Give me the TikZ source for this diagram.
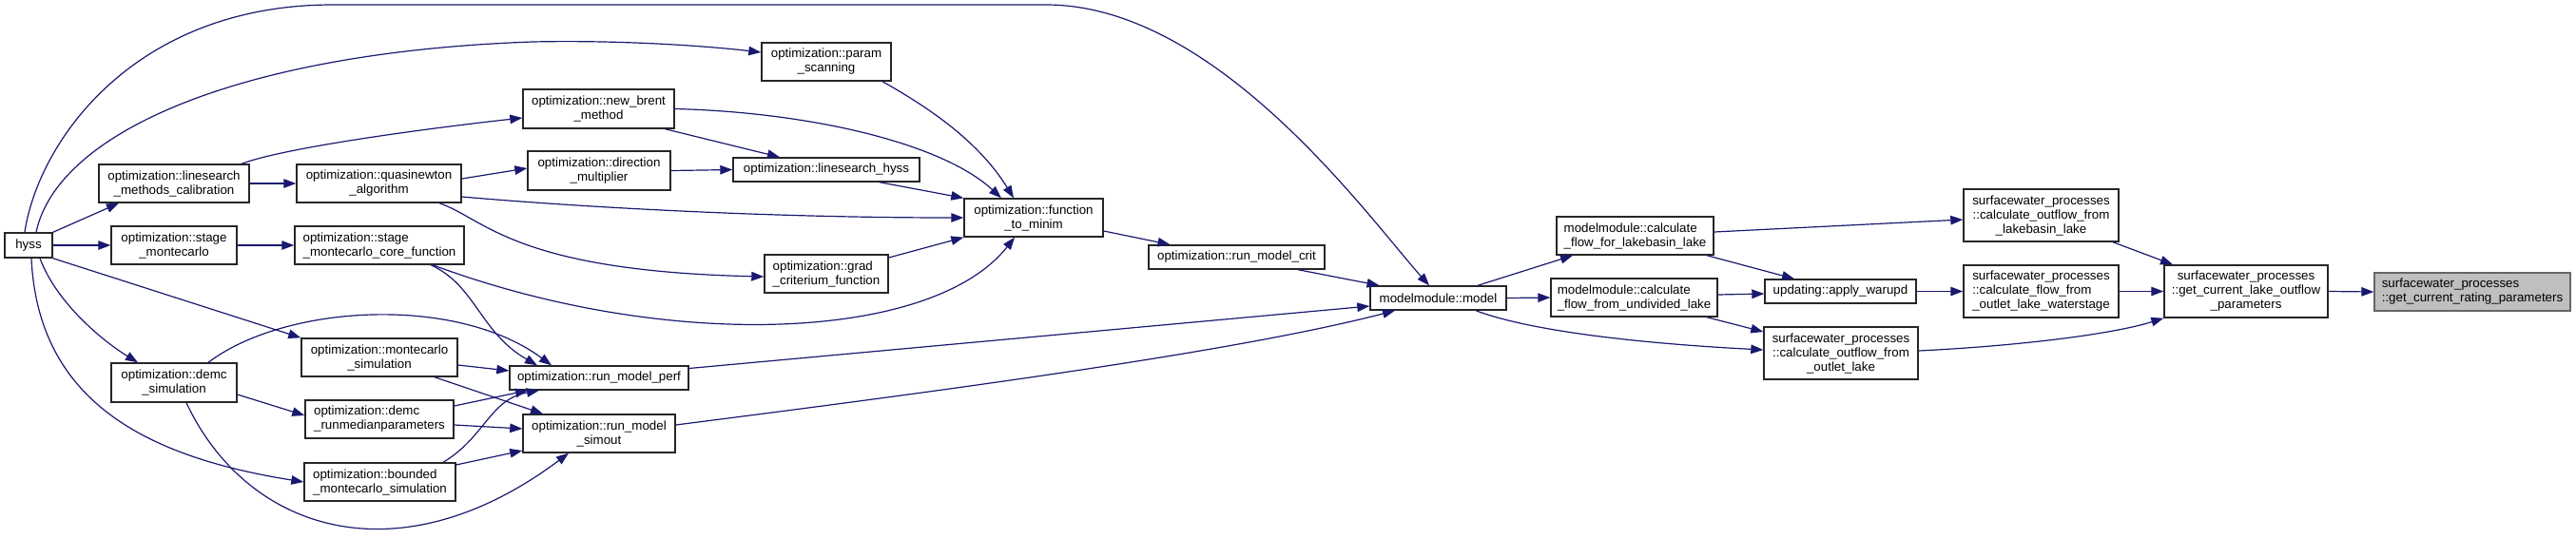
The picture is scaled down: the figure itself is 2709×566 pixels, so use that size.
\documentclass[tikz,border=0pt]{standalone}
\usepackage{fontspec}
\setmainfont{Liberation Sans}
\usetikzlibrary{arrows.meta}
\definecolor{edgeblue}{HTML}{191970}

\begin{document}
\begin{tikzpicture}[x=1pt,y=-1pt,
	fn/.style={draw=black!85,line width=1.4pt,fill=white,inner sep=1pt,align=center,font=\fontsize{13.33}{15}\selectfont},
	fnl/.style={fn,align=left},
	root/.style={fnl,draw=black!60,fill=black!25},
	call/.style={draw=edgeblue,line width=1.2pt,-{Triangle[length=13pt,width=9.5pt]}}]
			\useasboundingbox (0,0) rectangle (2709,566);
			\node [fn,minimum width=50,minimum height=26] (hyss) at (30,258) {hyss};
			\node [fn,minimum width=158,minimum height=40] (lsmc) at (183,193) {optimization::linesearch\\\_methods\_calibration};
			\node [fn,minimum width=132,minimum height=40] (stmc) at (183,258) {optimization::stage\\\_montecarlo};
			\node [fn,minimum width=132,minimum height=41] (demc) at (183,402.5) {optimization::demc\\\_simulation};
			\node [fn,minimum width=173,minimum height=40] (qn) at (398.5,193) {optimization::quasinewton\\\_algorithm};
			\node [fnl,minimum width=178,minimum height=40] (core) at (399,258) {optimization::stage\\\_montecarlo\_core\_function};
			\node [fn,minimum width=164,minimum height=40] (mcsim) at (399,376) {optimization::montecarlo\\\_simulation};
			\node [fnl,minimum width=156,minimum height=40] (runmed) at (399,441) {optimization::demc\\\_runmedianparameters};
			\node [fnl,minimum width=159,minimum height=40] (bmc) at (399.5,507) {optimization::bounded\\\_montecarlo\_simulation};
			\node [fn,minimum width=159,minimum height=41] (brent) at (629.5,114.5) {optimization::new\_brent\\\_method};
			\node [fn,minimum width=150,minimum height=41] (dirm) at (630,179.5) {optimization::direction\\\_multiplier};
			\node [fn,minimum width=188,minimum height=25] (perf) at (630,397.5) {optimization::run\_model\_perf};
			\node [fn,minimum width=160,minimum height=40] (simout) at (630,456) {optimization::run\_model\\\_simout};
			\node [fn,minimum width=136,minimum height=40] (scan) at (869,65) {optimization::param\\\_scanning};
			\node [fn,minimum width=196,minimum height=25] (lshyss) at (869,178.5) {optimization::linesearch\_hyss};
			\node [fnl,minimum width=130,minimum height=40] (grad) at (869,288) {optimization::grad\\\_criterium\_function};
			\node [fn,minimum width=146,minimum height=40] (ftm) at (1087,229) {optimization::function\\\_to\_minim};
			\node [fn,minimum width=185,minimum height=25] (crit) at (1300.5,270.5) {optimization::run\_model\_crit};
			\node [fn,minimum width=143,minimum height=25] (model) at (1512.5,313.5) {modelmodule::model};
			\node [fnl,minimum width=165,minimum height=40] (lakeb) at (1719.5,248) {modelmodule::calculate\\\_flow\_for\_lakebasin\_lake};
			\node [fnl,minimum width=175,minimum height=40] (undiv) at (1718.5,313) {modelmodule::calculate\\\_flow\_from\_undivided\_lake};
			\node [fn,minimum width=159,minimum height=25] (warupd) at (1935.5,306.5) {updating::apply\_warupd};
			\node [fn,minimum width=162,minimum height=55] (outlet) at (1936,371.5) {surfacewater\_processes\\::calculate\_outflow\_from\\\_outlet\_lake};
			\node [fn,minimum width=163,minimum height=55] (outlb) at (2146.5,226.5) {surfacewater\_processes\\::calculate\_outflow\_from\\\_lakebasin\_lake};
			\node [fnl,minimum width=163,minimum height=55] (wstage) at (2146.5,306.5) {surfacewater\_processes\\::calculate\_flow\_from\\\_outlet\_lake\_waterstage};
			\node [fn,minimum width=172,minimum height=55] (lakeout) at (2362,306.5) {surfacewater\_processes\\::get\_current\_lake\_outflow\\\_parameters};
			\node [root,minimum width=206,minimum height=40] (rating) at (2600,307) {surfacewater\_processes\\::get\_current\_rating\_parameters};
			\draw [call] ([xshift=-4pt]hyss.north) .. controls (40,150) and (140,5) .. (350,5) -- (1100,5) .. controls (1280,5) and (1440,230) .. ([xshift=-9.5pt]model.north);
			\draw [call] ([xshift=8pt]hyss.north) .. controls (60,140) and (250,55) .. (560,44) .. controls (650,42) and (740,48) .. ([yshift=10pt]scan.west);
			\draw [call] (hyss.north east) -- ([xshift=-58pt]lsmc.south);
			\draw [call] (hyss.east) -- (stmc.west);
			\draw [call] (hyss.south east) -- (mcsim.north west);
			\draw [call] ([xshift=12pt]hyss.south) .. controls (60,320) and (110,360) .. ([xshift=-38pt]demc.north);
			\draw [call] ([xshift=3pt]hyss.south) .. controls (40,420) and (150,480) .. (bmc.west);
			\draw [call] ([xshift=71pt]lsmc.north) .. controls (300,155) and (450,135) .. ([yshift=-9.5pt]brent.west);
			\draw [call] (lsmc.east) -- (qn.west);
			\draw [call] ([yshift=5pt]qn.east) -- ([yshift=2.5pt]dirm.west);
			\draw [call] ([yshift=-14pt]qn.east) .. controls (600,217) and (800,229) .. (ftm.west);
			\draw [call] ([xshift=63.5pt]qn.south) .. controls (510,230) and (540,285) .. ([yshift=-3pt]grad.west);
			\draw [call] (stmc.east) -- (core.west);
			\draw [call] ([xshift=54pt]core.south) .. controls (500,300) and (505,350) .. ([xshift=-65pt]perf.north);
			\draw [call] ([xshift=56pt]core.south) .. controls (700,370) and (980,360) .. ([xshift=-20pt]ftm.south);
			\draw [call] ([xshift=36pt]demc.north) .. controls (300,320) and (480,310) .. ([xshift=-50pt]perf.north);
			\draw [call] ([yshift=-8pt]mcsim.east) -- ([yshift=7.5pt]perf.west);
			\draw [call] ([xshift=58pt]mcsim.south) -- ([xshift=-59pt]simout.north);
			\draw [call] ([yshift=-12.5pt]demc.east) -- ([yshift=4pt]runmed.west);
			\draw [call] ([yshift=14pt]runmed.east) -- ([xshift=-75pt]perf.south);
			\draw [call] ([yshift=-6pt]runmed.east) -- ([yshift=5pt]simout.west);
			\draw [call] ([xshift=66.5pt]bmc.north) .. controls (510,460) and (515,420) .. ([xshift=-63pt]perf.south);
			\draw [call] ([yshift=18pt]bmc.east) -- ([yshift=-18pt]simout.west);
			\draw [call] ([xshift=13pt]demc.south) .. controls (260,560) and (420,610) .. ([xshift=-32pt]simout.south);
			\draw [call] ([xshift=70pt]brent.south) -- ([xshift=-49pt]lshyss.north);
			\draw [call] (brent.east) .. controls (850,118) and (990,150) .. ([xshift=-34pt]ftm.north);
			\draw [call] ([xshift=59pt]scan.south) .. controls (980,115) and (1030,150) .. ([xshift=-21pt]ftm.north);
			\draw [call] ([xshift=56pt]lshyss.south) -- (ftm.north west);
			\draw [call] (dirm.east) -- (lshyss.west);
			\draw [call] ([yshift=17pt]grad.east) -- (ftm.south west);
			\draw [call] ([yshift=-14pt]ftm.east) -- ([xshift=-70pt]crit.north);
			\draw [call] ([xshift=64.5pt]crit.south) -- ([xshift=-62pt]model.north);
			\draw [call] ([yshift=10pt]perf.east) -- ([yshift=-8.5pt]model.west);
			\draw [call] ([yshift=9pt]simout.east) .. controls (1000,410) and (1300,370) .. ([xshift=-45.5pt]model.south);
			\draw [call] ([xshift=41.5pt]model.north) -- ([xshift=-65.5pt]lakeb.south);
			\draw [call] (model.east) -- (undiv.west);
			\draw [call] ([xshift=39.5pt]model.south) .. controls (1600,345) and (1700,360) .. ([yshift=3.5pt]outlet.west);
			\draw [call] ([xshift=75.5pt]lakeb.south) -- ([xshift=-48.5pt]warupd.north);
			\draw [call] ([yshift=4pt]lakeb.east) -- ([yshift=-4.5pt]outlb.west);
			\draw [call] ([yshift=3pt]undiv.east) -- ([yshift=-2.5pt]warupd.west);
			\draw [call] ([xshift=76.5pt]undiv.south) -- ([yshift=22.5pt]outlet.west);
			\draw [call] (warupd.east) -- (wstage.west);
			\draw [call] ([xshift=75.5pt]outlb.south) -- ([xshift=-77pt]lakeout.north);
			\draw [call] (wstage.east) -- (lakeout.west);
			\draw [call] ([yshift=2.5pt]outlet.east) .. controls (2120,364) and (2220,352) .. (lakeout.south west);
			\draw [call] (lakeout.east) -- (rating.west);
\end{tikzpicture}
\end{document}
